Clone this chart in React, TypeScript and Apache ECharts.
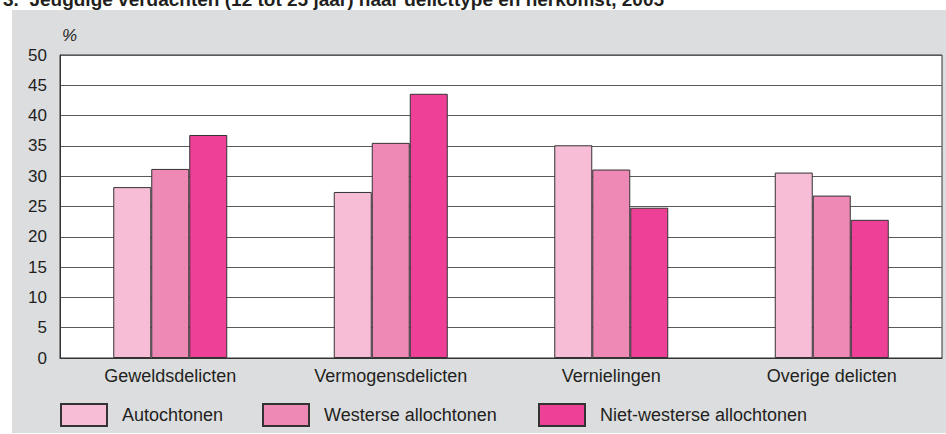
import React, { useEffect, useRef } from "react";
import * as echarts from "echarts";

const categories = ["Geweldsdelicten", "Vermogensdelicten", "Vernielingen", "Overige delicten"];
const seriesNames = ["Autochtonen", "Westerse allochtonen", "Niet-westerse allochtonen"];
const autochtonen = [28.2, 27.4, 35.1, 30.6];
const westerse = [31.2, 35.5, 31.1, 26.8];
const nietWesterse = [36.8, 43.6, 24.8, 22.8];
const yTicks = { min: 0, max: 50, interval: 5 };
const title = "3.  Jeugdige verdachten (12 tot 25 jaar) naar delicttype en herkomst, 2005";
const unitLabel = "%";

const colors = ["#F7BDD7", "#EE89B5", "#EE4097"];
const FONT = "'Liberation Sans', Arial, sans-serif";

export default function App() {
  const ref = useRef<HTMLDivElement>(null);
  useEffect(() => {
    if (!ref.current) return;
    const chart = echarts.init(ref.current, undefined, { renderer: "svg" });
    const values = [autochtonen, westerse, nietWesterse];
    const legendLefts = [55, 257, 533];
    chart.setOption({
      animation: false,
      textStyle: { fontFamily: FONT },
      graphic: [
        {
          type: "rect",
          z: -10,
          shape: { x: 12, y: 10, width: 934, height: 423 },
          style: { fill: "#DCDDDF" },
          silent: true,
        },
        {
          type: "text",
          x: 3,
          y: -1,
          style: {
            text: title,
            fontFamily: FONT,
            fontSize: 19,
            fontWeight: "bold",
            fill: "#231F20",
            verticalAlign: "middle",
          },
        },
        {
          type: "text",
          x: 62,
          y: 35,
          style: {
            text: unitLabel,
            fontFamily: FONT,
            fontSize: 17,
            fontStyle: "italic",
            fill: "#231F20",
            verticalAlign: "middle",
          },
        },
      ],
      grid: {
        left: 60,
        right: 4,
        top: 55,
        bottom: 76,
        show: true,
        backgroundColor: "#FFFFFF",
        borderColor: "#333333",
        borderWidth: 1,
      },
      legend: seriesNames.map((n, i) => ({
        data: [n],
        left: legendLefts[i],
        top: 398,
        itemWidth: 46,
        itemHeight: 22,
        icon: "rect",
        textStyle: { fontSize: 18, color: "#231F20", fontFamily: FONT, padding: [0, 0, 0, 10] },
        selectedMode: false,
      })),
      xAxis: {
        type: "category",
        data: categories,
        axisLine: { lineStyle: { color: "#333333", width: 1 } },
        axisTick: { show: false },
        axisLabel: { fontSize: 18, color: "#231F20", margin: 9, fontFamily: FONT },
      },
      yAxis: {
        type: "value",
        min: yTicks.min,
        max: yTicks.max,
        interval: yTicks.interval,
        axisLine: { show: true, lineStyle: { color: "#333333", width: 1 } },
        axisTick: { show: false },
        axisLabel: { fontSize: 17, color: "#231F20", margin: 13, fontFamily: FONT },
        splitLine: { lineStyle: { color: "#5A5A5A", width: 1 } },
      },
      series: seriesNames.map((n, i) => ({
        name: n,
        type: "bar",
        data: values[i],
        barWidth: 38,
        barGap: "0%",
        itemStyle: { color: colors[i], borderColor: "#333333", borderWidth: 1 },
      })),
    });
    return () => chart.dispose();
  }, []);
  return (
    <div
      ref={ref}
      style={{ position: "fixed", left: 0, top: 0, width: 946, height: 434, background: "#FFFFFF" }}
    />
  );
}
